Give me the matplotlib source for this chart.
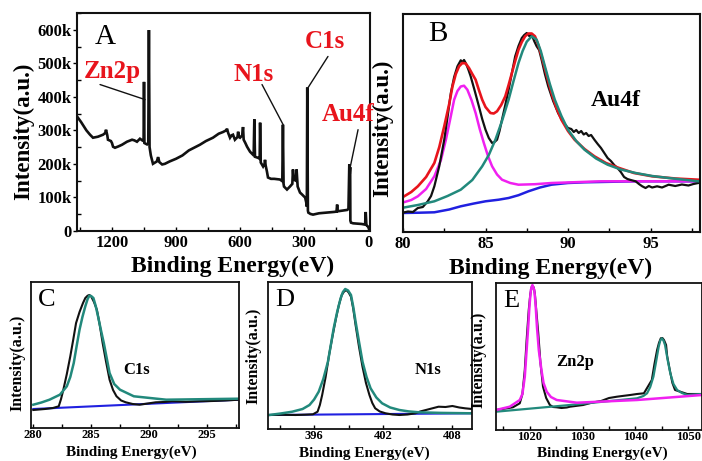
import matplotlib
matplotlib.use("Agg")
import matplotlib.pyplot as plt
from matplotlib.ticker import MultipleLocator, FixedLocator

plt.rcParams['font.family'] = ['Liberation Serif', 'DejaVu Serif']

# ---------------- Panel A: survey spectrum ----------------
survey_energy = [1362, 1345, 1320, 1303, 1289, 1266, 1242, 1232, 1228, 1222, 1219, 1205, 1200, 1195,
                 1186, 1170, 1153, 1130, 1106, 1095, 1083, 1069, 1058, 1052, 1050, 1048, 1036,
                 1030, 1027, 1024, 1018, 1012, 1008, 1000, 990, 984, 978, 965, 952, 930, 900,
                 870, 840, 810, 788, 760, 727, 700, 680, 665, 661, 656, 647, 640, 633, 624,
                 612, 609, 605, 600, 590, 586, 583, 575, 567, 553, 539, 536, 533, 530, 516,
                 508, 506, 503, 492, 485, 483, 480, 474, 469, 455, 440, 413, 402, 399, 396,
                 394, 380, 366, 355, 352, 349, 340, 335, 330, 319, 309, 295, 290, 287, 285,
                 282, 280, 270, 258, 230, 192, 160, 148, 145, 142, 120, 98, 92, 88, 86, 84,
                 83, 80, 70, 52, 30, 14, 11, 8, 4, 0, -6]
survey_counts_k = [340, 325, 300, 287, 278, 281, 287, 292, 302, 285, 272, 268, 262, 251,
                   248, 252, 257, 266, 272, 270, 266, 275, 270, 268, 445, 262, 258,
                   262, 600, 250, 225, 210, 200, 203, 207, 220, 205, 198, 200, 207, 215,
                   225, 240, 250, 257, 268, 278, 290, 295, 300, 305, 293, 278, 285, 287, 272,
                   280, 296, 280, 278, 285, 310, 272, 262, 251, 236, 227, 230, 333, 221, 218,
                   215, 323, 204, 192, 200, 212, 195, 177, 159, 155, 155, 153, 148, 317, 140,
                   132, 123, 132, 140, 183, 153, 150, 183, 132, 114, 108, 99, 85, 72, 428,
                   60, 54, 50, 48, 52, 54, 56, 57, 78, 58, 60, 62, 65, 198, 170, 190,
                   30, 24, 22, 21, 20, 18, 56, 18, 14, 12, 4]
survey_yticks = [0, 100, 200, 300, 400, 500, 600]
survey_yticklabels = ['0', '100k', '200k', '300k', '400k', '500k', '600k']
survey_xticks = [1200, 900, 600, 300, 0]
peak_labels = ['Zn2p', 'N1s', 'C1s', 'Au4f']
peak_label_pos = [(1200, 476), (534, 467), (202, 566), (94, 347)]
leader_start = [(1256, 437), (497, 437), (188, 521), (47, 302)]
leader_end = [(1045, 392), (398, 317), (281, 428), (84, 189)]

# ---------------- Panel B: Au4f ----------------
au_x_raw = [79.9, 80.3, 80.6, 80.9, 81.2, 81.5, 81.7, 81.9, 82.2, 82.5, 82.7, 82.9, 83.1, 83.3,
            83.5, 83.6, 83.7, 83.8, 83.95, 84.1, 84.35, 84.6, 84.8, 85.0, 85.2, 85.4, 85.55, 85.7,
            85.85, 86.0, 86.2, 86.4, 86.6, 86.8, 87.0, 87.2, 87.35, 87.5, 87.65, 87.8, 87.95, 88.1,
            88.25, 88.4, 88.6, 88.8, 89.1, 89.4, 89.7, 90.0, 90.2, 90.35, 90.5, 90.65, 90.8, 90.95,
            91.1, 91.25, 91.4, 91.6, 91.8, 92.0, 92.2, 92.4, 92.6, 92.8, 93.0, 93.2, 93.4, 93.6,
            93.8, 94.1, 94.3, 94.5, 94.7, 94.9, 95.1, 95.4, 95.7, 96.1, 96.5, 96.9, 97.3, 97.6, 97.9]
au_y_raw = [19, 20.5, 20, 24, 25, 30.7, 36, 45.7, 66, 92.3, 115, 139, 155, 165.7,
            171.7, 170, 172, 169, 163, 155.7, 141, 125.7, 113, 102.3, 94, 89, 90, 92.3,
            101, 112.3, 127, 142.3, 159, 175.7, 186, 194, 197, 199, 196, 197.3, 191, 185.7,
            182, 172.3, 158, 145.7, 131, 119, 110, 104, 103, 100, 102, 99, 101, 97.5,
            99, 96, 97, 92.3, 88, 84, 79, 74, 71, 67, 64, 60, 55, 53,
            52, 50.7, 48, 45.7, 44, 46, 44.5, 45.7, 44.5, 47.3, 46, 47.5, 46.5, 48, 49]
au_x_fit = [79.9, 80.5, 80.9, 81.4, 81.9, 82.2, 82.5, 82.8, 83.0, 83.2, 83.4, 83.6, 83.8, 84.0,
            84.2, 84.4, 84.6, 84.8, 85.0, 85.3, 85.5, 85.7, 85.95, 86.2, 86.4, 86.6, 86.8, 87.0,
            87.2, 87.4, 87.6, 87.8, 88.0, 88.2, 88.4, 88.7, 89.0, 89.3, 89.6, 90.0, 90.4, 91.0,
            91.6, 92.3, 93.1, 94.0, 95.1, 96.5, 97.9]
au_y_envelope = [34, 40, 45.7, 55, 69, 85, 105.7, 128, 145.7, 158, 165.7, 169, 168.5, 164,
                 158, 152.3, 142, 132.3, 125, 119, 118.5, 120.7, 127, 135.7, 147, 159, 171, 182.3,
                 190, 195.7, 198.5, 198.5, 195.7, 187, 175.7, 157, 139, 124, 112.3, 101, 92.3, 83,
                 75.7, 69, 64, 59, 55.7, 53.5, 52.3]
au_x_52 = [79.9, 80.9, 81.9, 82.7, 83.5, 84.2, 84.8, 85.2, 85.6, 86.0, 86.4, 86.7, 87.0, 87.25,
           87.5, 87.8, 88.1, 88.35, 88.6, 88.9, 89.2, 89.6, 90.0, 90.5, 91.0, 91.7, 92.4, 93.2,
           94.1, 95.1, 96.1, 97.9]
au_y_52 = [24, 27, 30.7, 36, 42.3, 52, 65.7, 77, 92.3, 111, 132.3, 151, 169, 181,
           190.3, 195.7, 192.3, 181, 165.7, 148, 132.3, 116, 102.3, 91, 82.3, 73.5, 67.3, 62.5,
           59, 56, 54, 50.7]
au_x_72 = [79.9, 80.5, 80.9, 81.4, 81.9, 82.3, 82.6, 82.85, 83.1, 83.3, 83.5, 83.7, 83.9, 84.15,
           84.4, 84.65, 84.9, 85.15, 85.4, 85.7, 86.0, 86.5, 87.0, 88.0, 89.0, 92.0, 97.9]
au_y_72 = [29, 32, 35.7, 43, 55.7, 72, 92.3, 112, 132.3, 141, 145.5, 146.3, 142.3, 132,
           119, 103, 89, 76, 65.7, 57.5, 52.3, 49, 47.3, 47.8, 49, 50.7, 50.7]
au_x_bg = [79.9, 81.0, 81.9, 82.8, 83.5, 84.3, 85.0, 85.8, 86.4, 87.0, 87.6, 88.3, 89.0, 90.0,
           91.0, 94.1, 97.9]
au_y_bg = [19, 19.3, 19.7, 22.5, 25.7, 28.5, 30.7, 32.3, 34, 36.8, 40.7, 44.5, 47.3, 49,
           49.7, 50.7, 50.7]

# ---------------- Panel C: C1s ----------------
c_x_raw = [280.0, 281.0, 281.7, 282.2, 282.4, 282.6, 282.9, 283.2, 283.45, 283.7, 284.0, 284.3,
           284.5, 284.7, 284.85, 285.0, 285.25, 285.5, 285.75, 286.0, 286.3, 286.6, 286.9, 287.2,
           287.6, 288.0, 288.6, 289.2, 289.9, 290.6, 291.3, 292.0, 293.2, 294.4, 295.5, 296.6, 297.8]
c_y_raw = [18, 19, 20, 21.7, 29, 38.3, 54, 71.7, 88, 105, 116, 125,
           130, 132.3, 133, 131.7, 126, 118.3, 103, 85, 66, 48.3, 38, 31.7,
           27.5, 25.7, 24, 23.3, 24.5, 25.7, 26, 26.7, 26.2, 26.7, 27, 27.5, 28.3]
c_x_fit = [280.0, 280.7, 281.4, 282.3, 282.9, 283.2, 283.5, 283.75, 284.0, 284.25, 284.5, 284.7,
           284.85, 285.0, 285.2, 285.4, 285.6, 285.85, 286.1, 286.35, 286.6, 287.0, 287.5, 288.7,
           291.5, 297.8]
c_y_fit = [23.3, 25.5, 28.3, 33.3, 41.7, 51, 65, 82, 98.3, 111, 121.7, 129,
           132.3, 132, 130, 122, 111.7, 98, 85, 70, 55, 44, 38.3, 31.7,
           28.3, 29.3]
c_x_bg = [280.0, 297.8]
c_y_bg = [19, 28.3]

# ---------------- Panel D: N1s ----------------
n_x_raw = [392.1, 393.2, 394.4, 395.2, 395.9, 396.3, 396.5, 396.7, 397.0, 397.3, 397.6, 397.9,
           398.15, 398.4, 398.6, 398.8, 399.0, 399.2, 399.4, 399.6, 399.9, 400.2, 400.5, 400.8,
           401.05, 401.3, 401.7, 402.2, 402.8, 403.4, 404.1, 404.8, 405.2, 405.7, 406.2, 406.8,
           407.4, 408.0, 408.6, 409.1, 409.7]
n_y_raw = [14, 14.2, 14, 14.3, 14.7, 17.3, 24, 34, 52, 74, 93, 110.7,
           124, 134, 137.5, 139, 136.5, 132.3, 120, 104, 82, 62.3, 46, 34,
           26, 20.7, 17.5, 15.7, 14.5, 14, 14.5, 15.7, 17.5, 19, 20.5, 22.3,
           22, 23, 21.5, 20.7, 20]
n_x_fit = [392.1, 393.1, 394.1, 395.0, 395.6, 396.0, 396.4, 396.8, 397.2, 397.45, 397.7, 398.0,
           398.3, 398.5, 398.7, 398.95, 399.2, 399.4, 399.6, 399.9, 400.2, 400.55, 400.9, 401.4,
           401.9, 402.6, 403.4, 404.2, 405.1, 407.0, 409.7]
n_y_fit = [14, 15.5, 17.3, 20, 24, 29.5, 37.3, 50, 67.3, 84, 100.7, 117,
           130.7, 137, 140, 138.5, 134, 122, 107.3, 87, 67.3, 52, 40.7, 31.5,
           25.7, 21.5, 19, 17.6, 16.7, 16.1, 15.7]
n_x_bg = [392.1, 409.7]
n_y_bg = [14, 15.7]

# ---------------- Panel E: Zn2p ----------------
zn_x_raw = [1013.6, 1016.8, 1018.1, 1018.6, 1019.05, 1019.4, 1019.8, 1020.1, 1020.4, 1020.7,
            1020.95, 1021.25, 1021.6, 1022.0, 1022.5, 1023.1, 1023.8, 1024.4, 1025.1, 1026.0,
            1027.0, 1027.6, 1030.1, 1031.5, 1032.7, 1033.5, 1034.0, 1035.0, 1036.5, 1037.5,
            1039.0, 1040.3, 1041.6, 1043.1, 1043.6, 1044.1, 1044.45, 1044.8, 1045.1, 1045.4,
            1045.8, 1046.0, 1046.5, 1047.0, 1047.5, 1049.8, 1052.6]
zn_y_raw = [20, 22.7, 26.7, 36, 60, 90, 120, 136, 144, 143,
            136.7, 118, 96.7, 68, 43.3, 32, 25, 23, 22.7, 22,
            22.5, 23.3, 25, 27, 28.3, 29, 30, 32, 33.3, 34,
            35, 36, 36.7, 50, 66, 80, 87, 91.7, 92, 90,
            85, 74, 60, 47, 40, 36, 36]
zn_x_32 = [1013.6, 1016.2, 1018.1, 1018.6, 1019.05, 1019.4, 1019.7, 1019.95, 1020.2, 1020.5,
           1020.85, 1021.1, 1021.35, 1021.7, 1022.2, 1022.6, 1023.2, 1024.0, 1025.1, 1028.9,
           1040.3, 1052.6]
zn_y_32 = [20, 23.3, 30, 36, 53.3, 80, 103.3, 125, 140, 145,
           140, 125, 103.3, 80, 60, 47, 38.3, 33, 30, 27.3,
           30, 35]
zn_x_12 = [1013.6, 1027.6, 1040.3, 1041.5, 1042.2, 1042.8, 1043.4, 1043.9, 1044.4, 1044.7,
           1045.0, 1045.3, 1045.6, 1046.1, 1046.6, 1047.2, 1047.9, 1048.8, 1049.8, 1052.6]
zn_y_12 = [18.3, 25, 31.7, 34, 36.7, 43, 53.3, 68, 83.3, 89.5,
           91.7, 89.5, 85, 70, 56.7, 46, 40, 37, 35, 36]

# colours
BLACK = '#111111'
RED = '#e8141c'
TEAL = '#22897c'
MAGENTA = '#f020f0'
BLUE = '#2020e0'
LABEL_RED = '#e8141c'

fig = plt.figure(figsize=(7.02, 4.61), dpi=100)

def style_axes(ax, lw=1.5):
    for s in ax.spines.values():
        s.set_linewidth(lw)
        s.set_color('#111111')

# ---- A ----
axA = fig.add_axes([77/702, 1-231/461, 293/702, 218/461])
axA.plot(survey_energy, survey_counts_k, color=BLACK, lw=1.9, solid_joinstyle='miter')
axA.set_xlim(1364, -9)
axA.set_ylim(-1, 651)
axA.set_xticks(survey_xticks)
axA.set_xticklabels([str(v) for v in survey_xticks])
axA.xaxis.set_minor_locator(MultipleLocator(150))
axA.set_yticks(survey_yticks)
axA.set_yticklabels(survey_yticklabels)
axA.yaxis.set_minor_locator(MultipleLocator(50))
axA.tick_params(axis='x', which='both', direction='in', length=3, width=1, pad=3)
axA.tick_params(axis='y', which='major', direction='out', length=3, width=1, pad=1)
axA.tick_params(axis='y', which='minor', direction='in', length=3, width=1)
for lab in axA.get_xticklabels() + axA.get_yticklabels():
    lab.set_fontweight('bold')
    lab.set_fontsize(12)
style_axes(axA)
for name, pos, s, e in zip(peak_labels, peak_label_pos, leader_start, leader_end):
    axA.text(pos[0], pos[1], name, color=LABEL_RED, fontsize=18, fontweight='bold',
             ha='center', va='center')
    axA.annotate('', xy=e, xytext=s, arrowprops=dict(arrowstyle='-', lw=1.0, color=BLACK,
                                                      shrinkA=0, shrinkB=0))
axA.text(0.061, 0.89, 'A', transform=axA.transAxes, fontsize=21, ha='left', va='center')
fig.text(233/702, 1-266/461, 'Binding Energy(eV)', fontsize=17, fontweight='bold',
         ha='center', va='center')
fig.text(24/702, 1-131/461, 'Intensity(a.u.)', fontsize=16.5, fontweight='bold',
         ha='center', va='center', rotation=90)

# ---- B ----
axB = fig.add_axes([403/702, 1-232/461, 297/702, 218/461])
axB.plot(au_x_bg, au_y_bg, color=BLUE, lw=1.8)
axB.plot(au_x_72, au_y_72, color=MAGENTA, lw=1.8)
axB.plot(au_x_raw, au_y_raw, color=BLACK, lw=1.6)
axB.plot(au_x_fit, au_y_envelope, color=RED, lw=1.9)
axB.plot(au_x_52, au_y_52, color=TEAL, lw=1.8)
axB.set_xlim(80, 98)
axB.set_ylim(0, 218)
axB.set_xticks([80, 85, 90, 95])
axB.xaxis.set_minor_locator(MultipleLocator(2.5))
axB.set_yticks([])
axB.tick_params(axis='x', which='both', direction='in', length=3, width=1, pad=3)
for lab in axB.get_xticklabels():
    lab.set_fontweight('bold')
    lab.set_fontsize(12)
style_axes(axB)
axB.text(92.9, 132, 'Au4f', fontsize=17, fontweight='bold', ha='center', va='center')
axB.text(0.084, 0.91, 'B', transform=axB.transAxes, fontsize=21, ha='left', va='center')
fig.text(551/702, 1-268/461, 'Binding Energy(eV)', fontsize=17, fontweight='bold',
         ha='center', va='center')
fig.text(383/702, 1-128/461, 'Intensity(a.u.)', fontsize=16.5, fontweight='bold',
         ha='center', va='center', rotation=90)

# ---- bottom panels ----
def small_panel(rect, xlim, ylim, major, minor, letter, label, label_xy, xlabel_pos, ylabel_pos):
    ax = fig.add_axes(rect)
    ax.set_xlim(*xlim)
    ax.set_ylim(*ylim)
    ax.set_xticks(major)
    ax.xaxis.set_minor_locator(FixedLocator(minor))
    ax.set_yticks([])
    ax.tick_params(axis='x', which='both', direction='in', length=3, width=1, pad=1)
    for lab in ax.get_xticklabels():
        lab.set_fontweight('bold')
        lab.set_fontsize(9)
    style_axes(ax, 1.3)
    ax.text(0.035, 0.88, letter, transform=ax.transAxes, fontsize=19, ha='left', va='center')
    ax.text(label_xy[0], label_xy[1], label, fontsize=12, fontweight='bold', ha='center', va='center')
    fig.text(xlabel_pos[0]/702, 1-xlabel_pos[1]/461, 'Binding Energy(eV)', fontsize=11,
             fontweight='bold', ha='center', va='center')
    fig.text(ylabel_pos[0]/702, 1-ylabel_pos[1]/461, 'Intensity(a.u.)', fontsize=11.5,
             fontweight='bold', ha='center', va='center', rotation=90)
    return ax

axC = small_panel([31/702, 1-428/461, 208/702, 146/461], (279.8, 297.8), (0, 146),
                  [280, 285, 290, 295], [282.5, 287.5, 292.5, 297.5], 'C', 'C1s', (288.9, 58),
                  (131, 452.5), (17, 363))
axC.plot(c_x_bg, c_y_bg, color=BLUE, lw=1.5)
axC.plot(c_x_raw, c_y_raw, color=BLACK, lw=1.5)
axC.plot(c_x_fit, c_y_fit, color=TEAL, lw=1.8)

axD = small_panel([268/702, 1-429/461, 204/702, 147/461], (392.0, 409.7), (0, 147),
                  [396, 402, 408], [393, 399, 405], 'D', 'N1s', (405.9, 59),
                  (364, 453), (253, 356))
axD.plot(n_x_bg, n_y_bg, color=BLUE, lw=1.5)
axD.plot(n_x_raw, n_y_raw, color=BLACK, lw=1.5)
axD.plot(n_x_fit, n_y_fit, color=TEAL, lw=1.8)

axE = small_panel([496/702, 1-430/461, 206/702, 147/461], (1013.6, 1052.6), (0, 147),
                  [1020, 1030, 1040, 1050], [1015, 1025, 1035, 1045], 'E', 'Zn2p', (1028.5, 68),
                  (602, 453), (478, 360))
axE.plot(zn_x_raw, zn_y_raw, color=BLACK, lw=1.5)
axE.plot(zn_x_12, zn_y_12, color=TEAL, lw=1.6)
axE.plot(zn_x_32, zn_y_32, color=MAGENTA, lw=1.8)

fig.savefig('out.png', dpi=100)
